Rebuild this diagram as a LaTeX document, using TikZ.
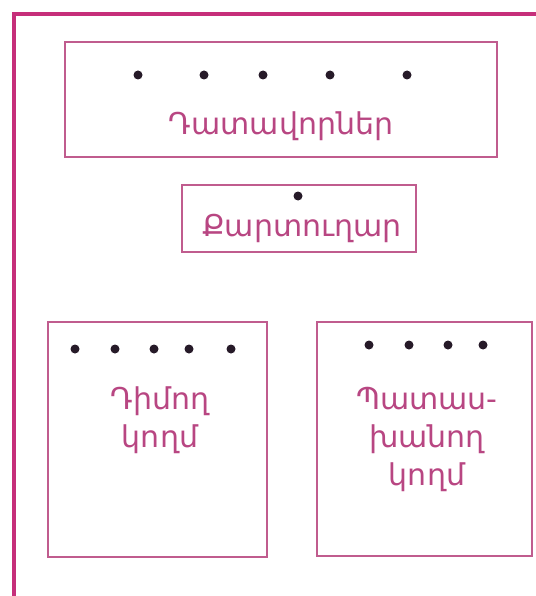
\documentclass[tikz,border=0pt]{standalone}
\usepackage{fontspec}
\newfontfamily\armfont{DejaVu Sans}
\definecolor{framecol}{RGB}{198,46,122}
\definecolor{boxcol}{RGB}{192,92,142}
\definecolor{textcol}{RGB}{184,70,130}
\definecolor{dotcol}{RGB}{38,26,40}
\tikzset{
  frame/.style={draw=framecol,line width=4pt},
  panel/.style={draw=boxcol,line width=2pt,inner sep=0pt},
  lbl/.style={text=textcol,font=\armfont\fontsize{30}{38}\selectfont,align=center,inner sep=0pt},
  seat/.style={fill=dotcol}
}
\begin{document}
\begin{tikzpicture}[x=1pt,y=-1pt]
\useasboundingbox (0,0) rectangle (535,596);
\draw[frame] (14,600) -- (14,14) -- (540,14);

\node[panel,minimum width=432,minimum height=115] (judges) at (281,99.5) {};
\node[panel,minimum width=234,minimum height=67] (clerk) at (299,218.5) {};
\node[panel,minimum width=219,minimum height=235] (claimant) at (157.5,439.5) {};
\node[panel,minimum width=215,minimum height=234] (respondent) at (424.5,439) {};

\node[lbl] (judgestext) at (281,126) {Դատավորներ};
\node[lbl] (clerktext) at (302,228) {Քարտուղար};
\node[lbl] (claimanttext) at (160,420) {Դիմող\\կողմ};
\node[lbl] (respondenttext) at (427,439) {Պատաս-\\խանող\\կողմ};

\foreach \x in {138,204,263,330,407}{
    \fill[seat] (\x,75) circle (4.5);
}
\fill[seat] (298,196) circle (4.5);
\foreach \x in {75,115,154,189,231}{
    \fill[seat] (\x,349) circle (4.5);
}
\foreach \x in {369,409,448,483}{
    \fill[seat] (\x,345) circle (4.5);
}
\end{tikzpicture}
\end{document}
